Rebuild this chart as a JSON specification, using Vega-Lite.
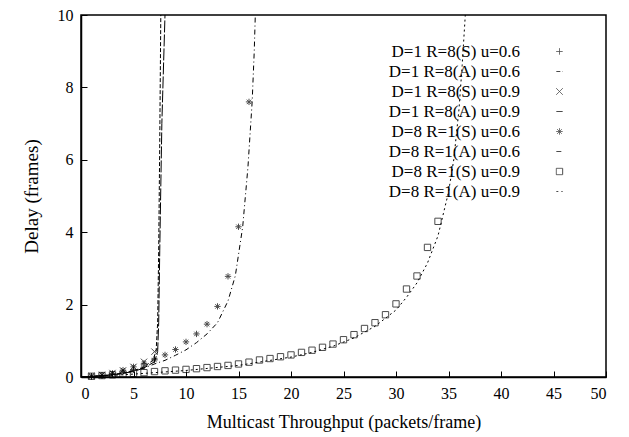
{
  "$schema": "https://vega.github.io/schema/vega-lite/v6.json",
  "autosize": {"type": "none"},
  "width": 525,
  "height": 362,
  "padding": {"left": 81, "top": 15, "right": 23, "bottom": 60},
  "background": "white",
  "config": {
    "view": {"stroke": "black", "strokeWidth": 1.5},
    "font": "Liberation Serif",
    "axis": {"grid": false, "domainColor": "black", "tickColor": "black", "labelColor": "black", "titleColor": "black", "labelFont": "Liberation Serif", "titleFont": "Liberation Serif", "titleFontWeight": "normal"},
    "legend": {"orient": "none", "legendX": 430, "legendY": 28, "title": null, "padding": 0,
      "symbolSize": 40, "rowPadding": 2, "labelAlign": "right", "labelOffset": -48, "symbolOffset": 40,
      "labelFont": "Liberation Serif", "labelFontSize": 17, "labelColor": "black", "labelLimit": 300,
      "symbolStrokeColor": "black", "symbolFillColor": "transparent", "symbolStrokeWidth": 1}
  },
  "datasets": {
    "pts": [
      {"series": "D=1 R=8(S) u=0.6", "x": 1, "y": 0.02},
      {"series": "D=1 R=8(S) u=0.6", "x": 2, "y": 0.04},
      {"series": "D=1 R=8(S) u=0.6", "x": 3, "y": 0.08},
      {"series": "D=1 R=8(S) u=0.6", "x": 4, "y": 0.13},
      {"series": "D=1 R=8(S) u=0.6", "x": 5, "y": 0.2},
      {"series": "D=1 R=8(S) u=0.6", "x": 6, "y": 0.3},
      {"series": "D=1 R=8(S) u=0.6", "x": 7, "y": 0.5},
      {"series": "D=1 R=8(S) u=0.9", "x": 1, "y": 0.03},
      {"series": "D=1 R=8(S) u=0.9", "x": 2, "y": 0.06},
      {"series": "D=1 R=8(S) u=0.9", "x": 3, "y": 0.11},
      {"series": "D=1 R=8(S) u=0.9", "x": 4, "y": 0.18},
      {"series": "D=1 R=8(S) u=0.9", "x": 5, "y": 0.28},
      {"series": "D=1 R=8(S) u=0.9", "x": 6, "y": 0.42},
      {"series": "D=1 R=8(S) u=0.9", "x": 7, "y": 0.7},
      {"series": "D=8 R=1(S) u=0.6", "x": 1, "y": 0.02},
      {"series": "D=8 R=1(S) u=0.6", "x": 2, "y": 0.05},
      {"series": "D=8 R=1(S) u=0.6", "x": 3, "y": 0.1},
      {"series": "D=8 R=1(S) u=0.6", "x": 4, "y": 0.19},
      {"series": "D=8 R=1(S) u=0.6", "x": 5, "y": 0.28},
      {"series": "D=8 R=1(S) u=0.6", "x": 6, "y": 0.38},
      {"series": "D=8 R=1(S) u=0.6", "x": 7, "y": 0.47},
      {"series": "D=8 R=1(S) u=0.6", "x": 8, "y": 0.61},
      {"series": "D=8 R=1(S) u=0.6", "x": 9, "y": 0.76},
      {"series": "D=8 R=1(S) u=0.6", "x": 10, "y": 0.97},
      {"series": "D=8 R=1(S) u=0.6", "x": 11, "y": 1.19},
      {"series": "D=8 R=1(S) u=0.6", "x": 12, "y": 1.46},
      {"series": "D=8 R=1(S) u=0.6", "x": 13, "y": 1.95},
      {"series": "D=8 R=1(S) u=0.6", "x": 14, "y": 2.78},
      {"series": "D=8 R=1(S) u=0.6", "x": 15, "y": 4.15},
      {"series": "D=8 R=1(S) u=0.6", "x": 16, "y": 7.6},
      {"series": "D=8 R=1(S) u=0.9", "x": 1, "y": 0.02},
      {"series": "D=8 R=1(S) u=0.9", "x": 2, "y": 0.04},
      {"series": "D=8 R=1(S) u=0.9", "x": 3, "y": 0.06},
      {"series": "D=8 R=1(S) u=0.9", "x": 4, "y": 0.08},
      {"series": "D=8 R=1(S) u=0.9", "x": 5, "y": 0.1},
      {"series": "D=8 R=1(S) u=0.9", "x": 6, "y": 0.12},
      {"series": "D=8 R=1(S) u=0.9", "x": 7, "y": 0.15},
      {"series": "D=8 R=1(S) u=0.9", "x": 8, "y": 0.17},
      {"series": "D=8 R=1(S) u=0.9", "x": 9, "y": 0.19},
      {"series": "D=8 R=1(S) u=0.9", "x": 10, "y": 0.21},
      {"series": "D=8 R=1(S) u=0.9", "x": 11, "y": 0.23},
      {"series": "D=8 R=1(S) u=0.9", "x": 12, "y": 0.26},
      {"series": "D=8 R=1(S) u=0.9", "x": 13, "y": 0.29},
      {"series": "D=8 R=1(S) u=0.9", "x": 14, "y": 0.32},
      {"series": "D=8 R=1(S) u=0.9", "x": 15, "y": 0.36},
      {"series": "D=8 R=1(S) u=0.9", "x": 16, "y": 0.41},
      {"series": "D=8 R=1(S) u=0.9", "x": 17, "y": 0.47},
      {"series": "D=8 R=1(S) u=0.9", "x": 18, "y": 0.51},
      {"series": "D=8 R=1(S) u=0.9", "x": 19, "y": 0.56},
      {"series": "D=8 R=1(S) u=0.9", "x": 20, "y": 0.61},
      {"series": "D=8 R=1(S) u=0.9", "x": 21, "y": 0.68},
      {"series": "D=8 R=1(S) u=0.9", "x": 22, "y": 0.74},
      {"series": "D=8 R=1(S) u=0.9", "x": 23, "y": 0.82},
      {"series": "D=8 R=1(S) u=0.9", "x": 24, "y": 0.91},
      {"series": "D=8 R=1(S) u=0.9", "x": 25, "y": 1.03},
      {"series": "D=8 R=1(S) u=0.9", "x": 26, "y": 1.17},
      {"series": "D=8 R=1(S) u=0.9", "x": 27, "y": 1.34},
      {"series": "D=8 R=1(S) u=0.9", "x": 28, "y": 1.5},
      {"series": "D=8 R=1(S) u=0.9", "x": 29, "y": 1.72},
      {"series": "D=8 R=1(S) u=0.9", "x": 30, "y": 2.02},
      {"series": "D=8 R=1(S) u=0.9", "x": 31, "y": 2.43},
      {"series": "D=8 R=1(S) u=0.9", "x": 32, "y": 2.79},
      {"series": "D=8 R=1(S) u=0.9", "x": 33, "y": 3.58},
      {"series": "D=8 R=1(S) u=0.9", "x": 34, "y": 4.3}
    ],
    "lines": [
      {"series": "D=1 R=8(A) u=0.6", "x": 0, "y": 0},
      {"series": "D=1 R=8(A) u=0.6", "x": 2, "y": 0.03},
      {"series": "D=1 R=8(A) u=0.6", "x": 4, "y": 0.1},
      {"series": "D=1 R=8(A) u=0.6", "x": 5, "y": 0.17},
      {"series": "D=1 R=8(A) u=0.6", "x": 6, "y": 0.28},
      {"series": "D=1 R=8(A) u=0.6", "x": 6.8, "y": 0.45},
      {"series": "D=1 R=8(A) u=0.6", "x": 7.15, "y": 0.7},
      {"series": "D=1 R=8(A) u=0.6", "x": 7.3, "y": 1.5},
      {"series": "D=1 R=8(A) u=0.6", "x": 7.4, "y": 3.5},
      {"series": "D=1 R=8(A) u=0.6", "x": 7.5, "y": 6.5},
      {"series": "D=1 R=8(A) u=0.6", "x": 7.6, "y": 10},
      {"series": "D=1 R=8(A) u=0.9", "x": 0, "y": 0},
      {"series": "D=1 R=8(A) u=0.9", "x": 3, "y": 0.06},
      {"series": "D=1 R=8(A) u=0.9", "x": 5, "y": 0.15},
      {"series": "D=1 R=8(A) u=0.9", "x": 6, "y": 0.25},
      {"series": "D=1 R=8(A) u=0.9", "x": 7, "y": 0.42},
      {"series": "D=1 R=8(A) u=0.9", "x": 7.3, "y": 0.7},
      {"series": "D=1 R=8(A) u=0.9", "x": 7.4, "y": 1.5},
      {"series": "D=1 R=8(A) u=0.9", "x": 7.5, "y": 3.5},
      {"series": "D=1 R=8(A) u=0.9", "x": 7.7, "y": 7},
      {"series": "D=1 R=8(A) u=0.9", "x": 8.0, "y": 10},
      {"series": "D=8 R=1(A) u=0.6", "x": 0, "y": 0},
      {"series": "D=8 R=1(A) u=0.6", "x": 2, "y": 0.03},
      {"series": "D=8 R=1(A) u=0.6", "x": 4, "y": 0.1},
      {"series": "D=8 R=1(A) u=0.6", "x": 6, "y": 0.25},
      {"series": "D=8 R=1(A) u=0.6", "x": 7, "y": 0.36},
      {"series": "D=8 R=1(A) u=0.6", "x": 8, "y": 0.46},
      {"series": "D=8 R=1(A) u=0.6", "x": 9, "y": 0.6},
      {"series": "D=8 R=1(A) u=0.6", "x": 10, "y": 0.75},
      {"series": "D=8 R=1(A) u=0.6", "x": 11, "y": 0.95},
      {"series": "D=8 R=1(A) u=0.6", "x": 12, "y": 1.19},
      {"series": "D=8 R=1(A) u=0.6", "x": 13, "y": 1.5},
      {"series": "D=8 R=1(A) u=0.6", "x": 14, "y": 2.1},
      {"series": "D=8 R=1(A) u=0.6", "x": 14.7, "y": 2.8},
      {"series": "D=8 R=1(A) u=0.6", "x": 15.4, "y": 4.15},
      {"series": "D=8 R=1(A) u=0.6", "x": 15.9, "y": 5.8},
      {"series": "D=8 R=1(A) u=0.6", "x": 16.3, "y": 7.6},
      {"series": "D=8 R=1(A) u=0.6", "x": 16.5, "y": 9},
      {"series": "D=8 R=1(A) u=0.6", "x": 16.6, "y": 10},
      {"series": "D=8 R=1(A) u=0.9", "x": 0, "y": 0},
      {"series": "D=8 R=1(A) u=0.9", "x": 2, "y": 0.03},
      {"series": "D=8 R=1(A) u=0.9", "x": 5, "y": 0.08},
      {"series": "D=8 R=1(A) u=0.9", "x": 10, "y": 0.18},
      {"series": "D=8 R=1(A) u=0.9", "x": 15, "y": 0.32},
      {"series": "D=8 R=1(A) u=0.9", "x": 20, "y": 0.55},
      {"series": "D=8 R=1(A) u=0.9", "x": 22, "y": 0.68},
      {"series": "D=8 R=1(A) u=0.9", "x": 24, "y": 0.85},
      {"series": "D=8 R=1(A) u=0.9", "x": 26, "y": 1.08},
      {"series": "D=8 R=1(A) u=0.9", "x": 28, "y": 1.4},
      {"series": "D=8 R=1(A) u=0.9", "x": 30, "y": 1.85},
      {"series": "D=8 R=1(A) u=0.9", "x": 31, "y": 2.2},
      {"series": "D=8 R=1(A) u=0.9", "x": 32, "y": 2.6},
      {"series": "D=8 R=1(A) u=0.9", "x": 33, "y": 3.15},
      {"series": "D=8 R=1(A) u=0.9", "x": 34, "y": 3.9},
      {"series": "D=8 R=1(A) u=0.9", "x": 35, "y": 5.1},
      {"series": "D=8 R=1(A) u=0.9", "x": 35.5, "y": 6.0},
      {"series": "D=8 R=1(A) u=0.9", "x": 36, "y": 7.4},
      {"series": "D=8 R=1(A) u=0.9", "x": 36.3, "y": 8.6},
      {"series": "D=8 R=1(A) u=0.9", "x": 36.6, "y": 10}
    ]
  },
  "layer": [
    {
      "data": {"name": "lines"},
      "mark": {"type": "line", "stroke": "black", "strokeWidth": 1, "clip": true},
      "encoding": {
        "x": {"field": "x", "type": "quantitative", "scale": {"domain": [0, 50], "nice": false},
          "axis": {"values": [0, 5, 10, 15, 20, 25, 30, 35, 40, 45, 50], "tickSize": -6, "labelPadding": 14, "labelFontSize": 16, "title": "Multicast Throughput (packets/frame)", "titleFontSize": 18, "titlePadding": 12, "domainWidth": 1.5}},
        "y": {"field": "y", "type": "quantitative", "scale": {"domain": [0, 10], "nice": false},
          "axis": {"values": [0, 2, 4, 6, 8, 10], "tickSize": -6, "labelPadding": 14, "labelFontSize": 16, "title": "Delay (frames)", "titleFontSize": 19, "titlePadding": 16, "domainWidth": 1.5}},
        "strokeDash": {"field": "series", "type": "nominal",
          "scale": {"domain": ["D=1 R=8(S) u=0.6", "D=1 R=8(A) u=0.6", "D=1 R=8(S) u=0.9", "D=1 R=8(A) u=0.9", "D=8 R=1(S) u=0.6", "D=8 R=1(A) u=0.6", "D=8 R=1(S) u=0.9", "D=8 R=1(A) u=0.9"],
            "range": [[1, 0], [4, 2], [1, 0], [12, 2], [1, 0], [5, 3, 1, 3], [1, 0], [2, 3]]}}
      }
    },
    {
      "data": {"name": "pts"},
      "mark": {"type": "point", "filled": false, "stroke": "black", "strokeWidth": 1, "size": 40},
      "encoding": {
        "x": {"field": "x", "type": "quantitative"},
        "y": {"field": "y", "type": "quantitative"},
        "shape": {"field": "series", "type": "nominal",
          "scale": {"domain": ["D=1 R=8(S) u=0.6", "D=1 R=8(A) u=0.6", "D=1 R=8(S) u=0.9", "D=1 R=8(A) u=0.9", "D=8 R=1(S) u=0.6", "D=8 R=1(A) u=0.6", "D=8 R=1(S) u=0.9", "D=8 R=1(A) u=0.9"],
            "range": ["M-1,0L1,0M0,-1L0,1", "stroke", "M-1,-1L1,1M-1,1L1,-1", "stroke", "M-1,0L1,0M0,-1L0,1M-0.7,-0.7L0.7,0.7M-0.7,0.7L0.7,-0.7", "stroke", "square", "stroke"]},
          "legend": {
            "encode": {"symbols": {
              "size": {"value": {"expr": "datum.index % 2 == 1 ? 2800 : 40"}},
              "stroke": {"value": "black"}, "strokeWidth": {"value": 1}, "fill": {"value": "transparent"}}}}
        }
      }
    }
  ]
}
